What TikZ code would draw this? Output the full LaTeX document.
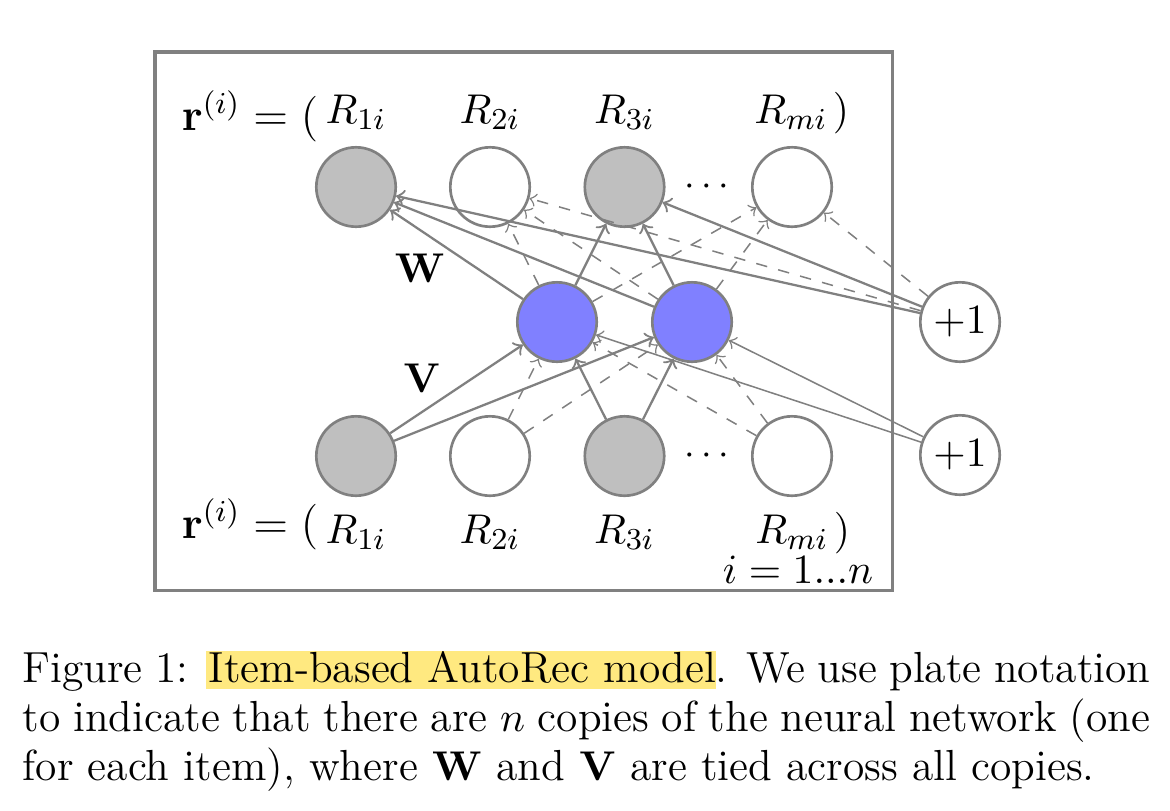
\documentclass[tikz,border=0pt]{standalone}
\usepackage{amsmath}
\definecolor{plategray}{gray}{0.5}
\definecolor{obsgray}{gray}{0.75}
\definecolor{hidblue}{rgb}{0.5,0.5,1}
\definecolor{marker}{RGB}{255,233,128}
\setlength{\fboxsep}{0pt}
\begin{document}
\begin{tikzpicture}[x=2.632pt,y=2.632pt,
        unit/.style={circle, draw=plategray, line width=0.7pt, minimum size=20.9pt, inner sep=0pt, fill=white},
        observed/.style={unit, fill=obsgray},
        hidden/.style={unit, fill=hidblue},
        known/.style={->, draw=plategray, semithick},
        unknown/.style={->, draw=plategray, thin, dashed},
        biasedge/.style={->, draw=plategray, thin},
        lab/.style={anchor=base, inner sep=1pt, font=\fontsize{11.3pt}{13pt}\selectfont},
        vecl/.style={anchor=base east, inner sep=0pt, font=\fontsize{12pt}{14pt}\selectfont}]
        \useasboundingbox (0,0) rectangle (117,81);
        \draw[plategray, line width=0.8pt] (15.5,22) rectangle (89.2,75.8);
        % output layer
        \node[observed] (out1) at (35.6,62.3) {};
        \node[unit] (out2) at (49.0,62.3) {};
        \node[observed] (out3) at (62.45,62.3) {};
        \node[unit] (out4) at (79.2,62.3) {};
        \node (dotsout) at (71.0,62.3) {$\cdots$};
        % hidden layer
        \node[hidden] (hid1) at (55.7,48.8) {};
        \node[hidden] (hid2) at (69.2,48.8) {};
        % input layer
        \node[observed] (in1) at (35.6,35.4) {};
        \node[unit] (in2) at (49.0,35.4) {};
        \node[observed] (in3) at (62.45,35.4) {};
        \node[unit] (in4) at (79.2,35.4) {};
        \node (dotsin) at (71.0,35.4) {$\cdots$};
        % bias units
        \node[unit, font=\fontsize{10.5pt}{12pt}\selectfont] (biasout) at (96.0,48.8) {$+1$};
        \node[unit, font=\fontsize{10.5pt}{12pt}\selectfont] (biasin) at (96.0,35.5) {$+1$};
        % labels
        \node[vecl] (rtop) at (31.9,68.0) {$\mathbf{r}^{(i)} = ($};
        \node[lab] (labtop1) at (35.6,68.7) {$R_{1i}$};
        \node[lab] (labtop2) at (49.0,68.7) {$R_{2i}$};
        \node[lab] (labtop3) at (62.45,68.7) {$R_{3i}$};
        \node[lab] (labtop4) at (79.1,68.7) {$R_{mi}$};
        \node[lab, anchor=base west, inner sep=0pt] (closetop) at (labtop4.base east) {$)$};
        \node[vecl] (rbot) at (31.9,27.2) {$\mathbf{r}^{(i)} = ($};
        \node[lab] (labbot1) at (35.6,26.7) {$R_{1i}$};
        \node[lab] (labbot2) at (49.0,26.7) {$R_{2i}$};
        \node[lab] (labbot3) at (62.45,26.7) {$R_{3i}$};
        \node[lab] (labbot4) at (79.2,26.7) {$R_{mi}$};
        \node[lab, anchor=base west, inner sep=0pt] (closebot) at (labbot4.base east) {$)$};
        \node[lab] (plateidx) at (79.8,22.7) {$i = 1...n$};
        \node[font=\fontsize{10.5pt}{12pt}\selectfont] (wlab) at (42.0,54.2) {$\mathbf{W}$};
        \node[font=\fontsize{10.5pt}{12pt}\selectfont] (vlab) at (42.2,43.2) {$\mathbf{V}$};
        % decoder W
        \draw[known] (hid1) -- (out1);
        \draw[unknown] (hid1) -- (out2);
        \draw[known] (hid1) -- (out3);
        \draw[unknown] (hid1) -- (out4);
        \draw[known] (hid2) -- (out1);
        \draw[unknown] (hid2) -- (out2);
        \draw[known] (hid2) -- (out3);
        \draw[unknown] (hid2) -- (out4);
        \draw[known] (biasout) -- (out1);
        \draw[unknown] (biasout) -- (out2);
        \draw[known] (biasout) -- (out3);
        \draw[unknown] (biasout) -- (out4);
        % encoder V
        \draw[known] (in1) -- (hid1);
        \draw[known] (in1) -- (hid2);
        \draw[unknown] (in2) -- (hid1);
        \draw[unknown] (in2) -- (hid2);
        \draw[known] (in3) -- (hid1);
        \draw[known] (in3) -- (hid2);
        \draw[unknown] (in4) -- (hid1);
        \draw[unknown] (in4) -- (hid2);
        \draw[biasedge] (biasin) -- (hid1);
        \draw[biasedge] (biasin) -- (hid2);
        % caption
        \node[anchor=north west, inner sep=0pt, text width=296.8pt, align=justify,
            font=\fontsize{11.45pt}{12.9pt}\selectfont] (caption) at (2.2,16.3)
            {\hyphenpenalty=10000\tolerance=9999\strut Figure 1: \colorbox{marker}{\rule[-1.8pt]{0pt}{10pt}\hspace{0.6pt}Item-based AutoRec model}. We use plate notation\linebreak
            to indicate that there are $n$ copies of the neural network (one\linebreak
            for each item), where $\mathbf{W}$ and $\mathbf{V}$ are tied across all copies.\par};
    \end{tikzpicture}
\end{document}
